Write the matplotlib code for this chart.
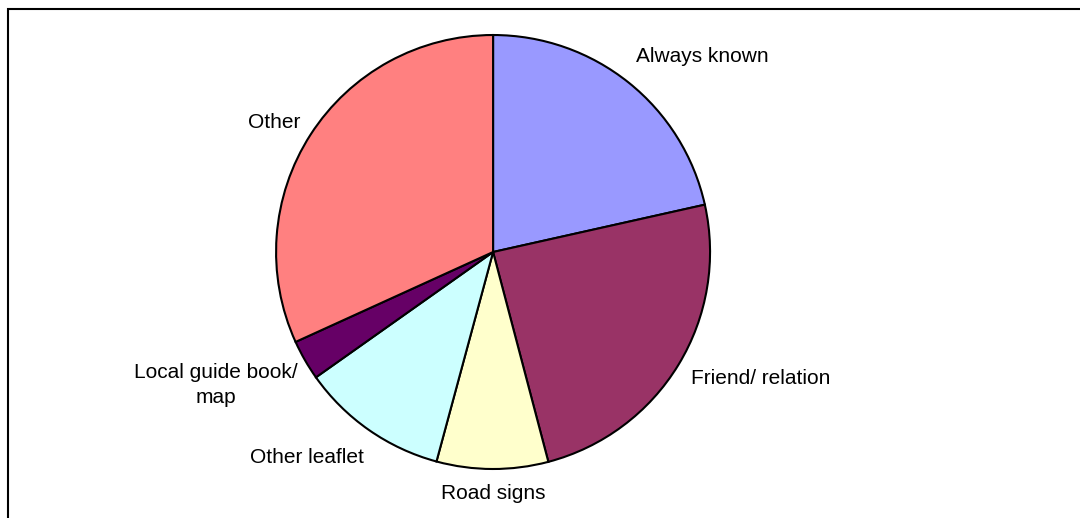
import matplotlib
matplotlib.use("Agg")
import matplotlib.pyplot as plt
from matplotlib.patches import Rectangle

plt.rcParams['font.family'] = ['Liberation Sans', 'DejaVu Sans']

labels = ['Always known', 'Friend/ relation', 'Road signs', 'Other leaflet',
          'Local guide book/\nmap', 'Other']
values = [21.5, 24.4, 8.3, 11.0, 3.0, 31.8]
colors = ['#9999FF', '#993366', '#FFFFCC', '#CCFFFF', '#660066', '#FF8080']
# label positions in pie radius units
label_pos = [(0.965, 0.903), (1.235, -0.585), (0.0, -1.115),
             (-0.859, -0.949), (-1.276, -0.613), (-1.009, 0.599)]

fig = plt.figure(figsize=(10.8, 5.18), dpi=100)
ax = fig.add_axes([0.2556, 0.0946, 0.4019, 0.8378])

ax.pie(values, colors=colors, startangle=90, counterclock=False, radius=1,
       wedgeprops=dict(edgecolor='black', linewidth=1.5))
for lab, (x, y) in zip(labels, label_pos):
    ax.text(x, y, lab, ha='center', va='center', fontsize=15, color='black',
            linespacing=1.45)
ax.set_xlim(-1, 1)
ax.set_ylim(-1, 1)
ax.set_aspect('equal')
ax.axis('off')

# chart frame (only left and top edges visible)
fig.add_artist(Rectangle((7.5 / 1080, -0.2), 1.2, 1.2 - 8.5 / 518,
                         transform=fig.transFigure, fill=False,
                         edgecolor='black', linewidth=1.5, clip_on=False))

fig.savefig('out.png', dpi=100, facecolor='white')
